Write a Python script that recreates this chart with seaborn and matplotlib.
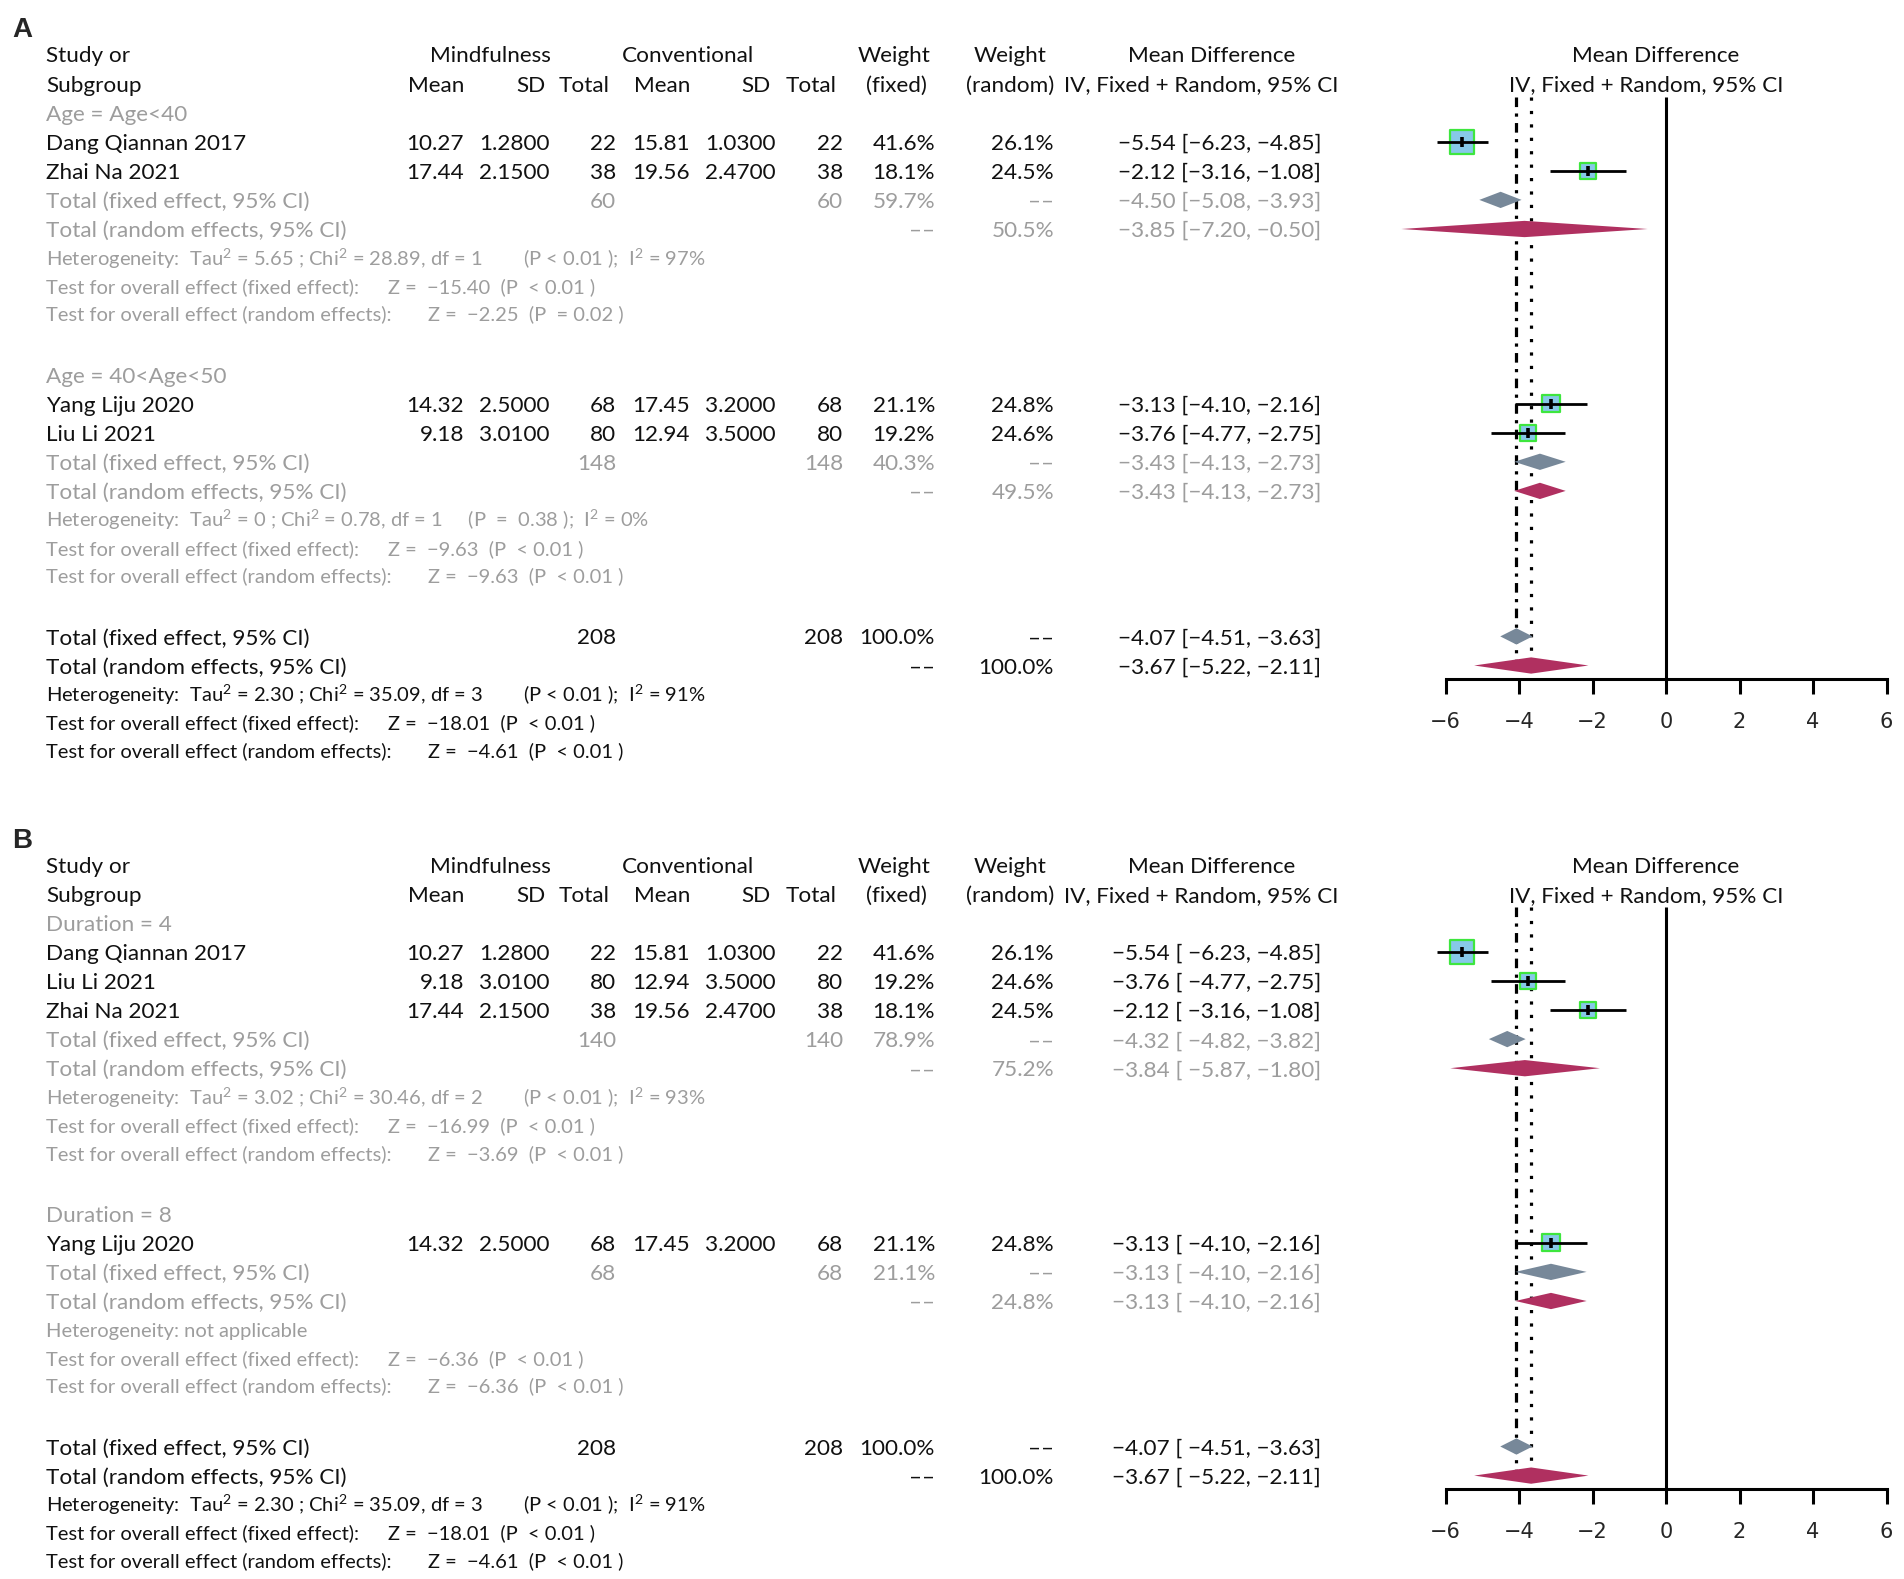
import matplotlib
matplotlib.use("Agg")
import matplotlib.pyplot as plt
import seaborn as sns
import pandas as pd
from matplotlib.font_manager import FontProperties
from matplotlib.textpath import TextToPath
from matplotlib.transforms import blended_transform_factory

# ---------------- data ----------------
study_names = ["Dang Qiannan 2017", "Zhai Na 2021", "Yang Liju 2020", "Liu Li 2021"]
mind_mean = [10.27, 17.44, 14.32, 9.18]
mind_sd = [1.28, 2.15, 2.50, 3.01]
mind_n = [22, 38, 68, 80]
conv_mean = [15.81, 19.56, 17.45, 12.94]
conv_sd = [1.03, 2.47, 3.20, 3.50]
conv_n = [22, 38, 68, 80]
w_fixed = [41.6, 18.1, 21.1, 19.2]
w_random = [26.1, 24.5, 24.8, 24.6]
md_est = [-5.54, -2.12, -3.13, -3.76]
md_lo = [-6.23, -3.16, -4.10, -4.77]
md_hi = [-4.85, -1.08, -2.16, -2.75]

# panel A: subgroups by age
a_group_labels = ["Age = Age<40", "Age = 40<Age<50"]
a_group_members = [[0, 1], [2, 3]]
a_group_n = [60, 148]
a_group_w_fixed = [59.7, 40.3]
a_group_w_random = [50.5, 49.5]
a_fixed_est = [-4.50, -3.43]
a_fixed_lo = [-5.08, -4.13]
a_fixed_hi = [-3.93, -2.73]
a_random_est = [-3.85, -3.43]
a_random_lo = [-7.20, -4.13]
a_random_hi = [-0.50, -2.73]
a_het = ["Heterogeneity:  Tau$^{2}$ = 5.65 ; Chi$^{2}$ = 28.89, df = 1        (P < 0.01 );  I$^{2}$ = 97%",
         "Heterogeneity:  Tau$^{2}$ = 0 ; Chi$^{2}$ = 0.78, df = 1     (P  =  0.38 );  I$^{2}$ = 0%"]
a_z_fixed = ["Z =  −15.40  (P  < 0.01 )", "Z =  −9.63  (P  < 0.01 )"]
a_z_random = ["Z =  −2.25  (P  = 0.02 )", "Z =  −9.63  (P  < 0.01 )"]

# panel B: subgroups by duration
b_group_labels = ["Duration = 4", "Duration = 8"]
b_group_members = [[0, 3, 1], [2]]
b_group_n = [140, 68]
b_group_w_fixed = [78.9, 21.1]
b_group_w_random = [75.2, 24.8]
b_fixed_est = [-4.32, -3.13]
b_fixed_lo = [-4.82, -4.10]
b_fixed_hi = [-3.82, -2.16]
b_random_est = [-3.84, -3.13]
b_random_lo = [-5.87, -4.10]
b_random_hi = [-1.80, -2.16]
b_het = ["Heterogeneity:  Tau$^{2}$ = 3.02 ; Chi$^{2}$ = 30.46, df = 2        (P < 0.01 );  I$^{2}$ = 93%",
         "Heterogeneity: not applicable"]
b_z_fixed = ["Z =  −16.99  (P  < 0.01 )", "Z =  −6.36  (P  < 0.01 )"]
b_z_random = ["Z =  −3.69  (P  < 0.01 )", "Z =  −6.36  (P  < 0.01 )"]

# overall
total_n = 208
overall_fixed = [-4.07, -4.51, -3.63]
overall_random = [-3.67, -5.22, -2.11]
overall_het = "Heterogeneity:  Tau$^{2}$ = 2.30 ; Chi$^{2}$ = 35.09, df = 3        (P < 0.01 );  I$^{2}$ = 91%"
overall_z_fixed = "Z =  −18.01  (P  < 0.01 )"
overall_z_random = "Z =  −4.61  (P  < 0.01 )"

x_ticks = [-6, -4, -2, 0, 2, 4, 6]

# ---------------- style / layout ----------------
sns.set_theme(style="white")
FONT = "Lato"
plt.rcParams["font.family"] = [FONT, "DejaVu Sans"]
plt.rcParams["mathtext.fontset"] = "custom"
plt.rcParams["mathtext.rm"] = FONT
plt.rcParams["mathtext.it"] = FONT + ":italic"
plt.rcParams["mathtext.bf"] = FONT + ":bold"

W, H, DPI = 1904, 1579, 100
ROW = 29.1            # px per table row
X0, XS = 1666, 36.75  # px of x=0, px per unit
AX_L, AX_R = 1380, 1904
BLACK, GRAY = "#111111", "#9d9d9d"
C_FIXED, C_RANDOM = "#778899", "#b03060"
SQ_FILL, SQ_EDGE = "#87c8e8", "#3ee63e"

_t2p = TextToPath()


def px_width(s, size):
    w, h, d = _t2p.get_text_width_height_descent(s, FontProperties(family=FONT, size=size), ismath=False)
    return w * DPI / 72


MAIN = 12 * 274 / px_width("IV, Fixed + Random, 95% CI", 12)
STAT = 12 * 346 / px_width("Test for overall effect (random effects):", 12)

COL = dict(mean1=464, sd1=550, n1=616, mean2=690, sd2=776, n2=843, wf=935, wr=1054, ci=1321)


def fmt(v, d=2):
    return f"{v:.{d}f}".replace("-", "−")


def ci_text(e, lo, hi, sp):
    return f"{fmt(e)} [{sp}{fmt(lo)}, {fmt(hi)}]"


fig = plt.figure(figsize=(W / DPI, H / DPI), dpi=DPI)


def draw_panel(letter, row0, labels, members, g_n, g_wf, g_wr, f_e, f_lo, f_hi,
               r_e, r_lo, r_hi, het, zf, zr, sp):
    top = row0 - 1.3 * ROW
    bot = row0 + 24.5 * ROW
    ax = fig.add_axes([AX_L / W, 1 - bot / H, (AX_R - AX_L) / W, (bot - top) / H])
    tr = blended_transform_factory(fig.transFigure, ax.transData)
    base_main = 0.5 * 0.72 * MAIN * DPI / 72 / ROW
    base_stat = 0.5 * 0.72 * STAT * DPI / 72 / ROW

    def put(px, row, s, ha="right", color=BLACK, size=None):
        size = size or MAIN
        base = base_main if size == MAIN else base_stat
        ax.text(px / W, row + base, s, ha=ha, va="baseline", transform=tr,
                color=color, fontsize=size)

    def diamond(e, lo, hi, row, color):
        h = 0.28
        ax.fill([lo, e, hi, e], [row, row - h, row, row + h], color=color, lw=0, zorder=3)

    fig.text(12 / W, 1 - (row0 - 17) / H, letter, fontsize=20, fontweight="bold",
             family="Liberation Sans", va="baseline", ha="left")

    # headers
    put(46, 0, "Study or", ha="left")
    put(46, 1, "Subgroup", ha="left")
    put(490, 0, "Mindfulness", ha="center")
    put(688, 0, "Conventional", ha="center")
    put(894, 0, "Weight", ha="center")
    put(1010, 0, "Weight", ha="center")
    put(1212, 0, "Mean Difference", ha="center")
    put(COL["mean1"], 1, "Mean")
    put(546, 1, "SD")
    put(610, 1, "Total")
    put(COL["mean2"], 1, "Mean")
    put(771, 1, "SD")
    put(837, 1, "Total")
    put(896, 1, "(fixed)", ha="center")
    put(1010, 1, "(random)", ha="center")
    put(1201, 1, "IV, Fixed + Random, 95% CI", ha="center")
    put(1656, 0, "Mean Difference", ha="center")
    put(1646, 1, "IV, Fixed + Random, 95% CI", ha="center")

    sq = []
    r = 2
    for g in range(len(labels)):
        put(46, r, labels[g], ha="left", color=GRAY)
        r += 1
        for i in members[g]:
            put(46, r, study_names[i], ha="left")
            put(COL["mean1"], r, fmt(mind_mean[i]))
            put(COL["sd1"], r, fmt(mind_sd[i], 4))
            put(COL["n1"], r, str(mind_n[i]))
            put(COL["mean2"], r, fmt(conv_mean[i]))
            put(COL["sd2"], r, fmt(conv_sd[i], 4))
            put(COL["n2"], r, str(conv_n[i]))
            put(COL["wf"], r, f"{w_fixed[i]:.1f}%")
            put(COL["wr"], r, f"{w_random[i]:.1f}%")
            put(COL["ci"], r, ci_text(md_est[i], md_lo[i], md_hi[i], sp))
            sq.append((md_est[i], md_lo[i], md_hi[i], r, w_fixed[i]))
            r += 1
        put(46, r, "Total (fixed effect, 95% CI)", ha="left", color=GRAY)
        put(COL["n1"], r, str(g_n[g]), color=GRAY)
        put(COL["n2"], r, str(g_n[g]), color=GRAY)
        put(COL["wf"], r, f"{g_wf[g]:.1f}%", color=GRAY)
        put(COL["wr"], r, "––", color=GRAY)
        put(COL["ci"], r, ci_text(f_e[g], f_lo[g], f_hi[g], sp), color=GRAY)
        diamond(f_e[g], f_lo[g], f_hi[g], r, C_FIXED)
        r += 1
        put(46, r, "Total (random effects, 95% CI)", ha="left", color=GRAY)
        put(COL["wf"], r, "––", color=GRAY)
        put(COL["wr"], r, f"{g_wr[g]:.1f}%", color=GRAY)
        put(COL["ci"], r, ci_text(r_e[g], r_lo[g], r_hi[g], sp), color=GRAY)
        diamond(r_e[g], r_lo[g], r_hi[g], r, C_RANDOM)
        r += 1
        put(46, r, het[g], ha="left", color=GRAY, size=STAT)
        put(46, r + 0.95, "Test for overall effect (fixed effect):", ha="left", color=GRAY, size=STAT)
        put(388, r + 0.95, zf[g], ha="left", color=GRAY, size=STAT)
        put(46, r + 1.9, "Test for overall effect (random effects):", ha="left", color=GRAY, size=STAT)
        put(428, r + 1.9, zr[g], ha="left", color=GRAY, size=STAT)
        r += 4

    # overall
    put(46, r, "Total (fixed effect, 95% CI)", ha="left")
    put(COL["n1"], r, str(total_n))
    put(COL["n2"], r, str(total_n))
    put(COL["wf"], r, "100.0%")
    put(COL["wr"], r, "––")
    put(COL["ci"], r, ci_text(*overall_fixed, sp))
    diamond(*overall_fixed, r, C_FIXED)
    r += 1
    put(46, r, "Total (random effects, 95% CI)", ha="left")
    put(COL["wf"], r, "––")
    put(COL["wr"], r, "100.0%")
    put(COL["ci"], r, ci_text(*overall_random, sp))
    diamond(*overall_random, r, C_RANDOM)
    axis_row = r + 0.46
    r += 1
    put(46, r, overall_het, ha="left", size=STAT)
    put(46, r + 0.95, "Test for overall effect (fixed effect):", ha="left", size=STAT)
    put(388, r + 0.95, overall_z_fixed, ha="left", size=STAT)
    put(46, r + 1.9, "Test for overall effect (random effects):", ha="left", size=STAT)
    put(428, r + 1.9, overall_z_random, ha="left", size=STAT)

    # study squares (area ~ fixed weight) with CI lines
    df = pd.DataFrame(sq, columns=["md", "lo", "hi", "row", "wf"])
    sizes = {w: 7.2 * w for w in df["wf"]}
    sns.scatterplot(data=df, x="md", y="row", size="wf", sizes=sizes, marker="s",
                    color=SQ_FILL, edgecolor=SQ_EDGE, linewidth=1.6, legend=False,
                    ax=ax, zorder=3)
    ax.hlines(df["row"], df["lo"], df["hi"], color="black", lw=2.0, zorder=4)
    ax.plot(df["md"], df["row"], ls="none", marker="|", ms=7, mew=2.6, color="black", zorder=5)

    # reference lines
    ax.plot([0, 0], [1.45, axis_row], color="black", lw=2.2, zorder=1, solid_capstyle="butt")
    ax.plot([overall_fixed[0]] * 2, [1.45, r - 1 + 0.05], color="black", lw=2.3,
            dashes=(3, 2, 1, 2), zorder=1)
    ax.plot([overall_random[0]] * 2, [1.45, r - 1 + 0.05], color="black", lw=2.3,
            dashes=(1, 3.2), zorder=1)

    ax.set_xlim((AX_L - X0) / XS, (AX_R - X0) / XS)
    ax.set_ylim(24.5, -1.3)
    ax.set(xlabel="", ylabel="")
    ax.set_yticks([])
    for s in ["top", "right", "left"]:
        ax.spines[s].set_visible(False)
    ax.spines["bottom"].set_position(("data", axis_row))
    ax.spines["bottom"].set_bounds(x_ticks[0], x_ticks[-1])
    ax.spines["bottom"].set_linewidth(2.2)
    ax.spines["bottom"].set_color("black")
    ax.set_xticks(x_ticks)
    ax.set_xticklabels([fmt(t, 0) for t in x_ticks], fontfamily="DejaVu Sans", fontsize=15)
    ax.tick_params(axis="x", direction="out", length=10.6, width=2.2, pad=13,
                   bottom=True, color="black")
    ax.patch.set_alpha(0)
    return ax


draw_panel("A", 54.4, a_group_labels, a_group_members, a_group_n, a_group_w_fixed,
           a_group_w_random, a_fixed_est, a_fixed_lo, a_fixed_hi,
           a_random_est, a_random_lo, a_random_hi, a_het, a_z_fixed, a_z_random, "")
draw_panel("B", 864.5, b_group_labels, b_group_members, b_group_n, b_group_w_fixed,
           b_group_w_random, b_fixed_est, b_fixed_lo, b_fixed_hi,
           b_random_est, b_random_lo, b_random_hi, b_het, b_z_fixed, b_z_random, " ")

fig.savefig("out.png", dpi=DPI, facecolor="white")
